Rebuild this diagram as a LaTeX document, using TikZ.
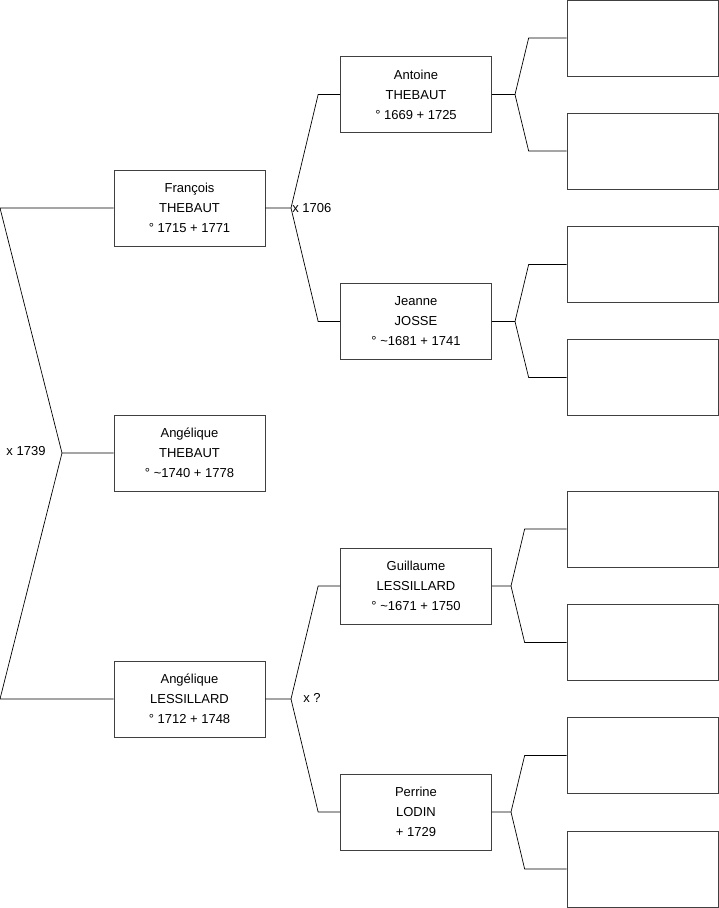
\documentclass[tikz,border=0pt]{standalone}
\usepackage{fontspec}
\setmainfont{Liberation Sans}
\usetikzlibrary{calc}

\begin{document}
\begin{tikzpicture}[x=1pt,y=-1pt,
  person/.style={draw=black!75,minimum width=151pt,minimum height=76pt,inner sep=0pt,align=center,font=\fontsize{13}{20}\selectfont},
  union/.style={inner sep=1pt,font=\fontsize{13}{15}\selectfont},
  every path/.style={line width=0.7pt}]
\useasboundingbox (0,0) rectangle (719,908);
% generation 1
\node[person] (francois) at (189.5,208) {François\\THEBAUT\\° 1715 + 1771};
\node[person] (angelique) at (189.5,453) {Angélique\\THEBAUT\\° \textasciitilde1740 + 1778};
\node[person] (angeliqueL) at (189.5,699) {Angélique\\LESSILLARD\\° 1712 + 1748};
% generation 2
\node[person] (antoine) at (416,94.5) {Antoine\\THEBAUT\\° 1669 + 1725};
\node[person] (jeanne) at (416,321.5) {Jeanne\\JOSSE\\° \textasciitilde1681 + 1741};
\node[person] (guillaume) at (416,586) {Guillaume\\LESSILLARD\\° \textasciitilde1671 + 1750};
\node[person] (perrine) at (416,812) {Perrine\\LODIN\\+ 1729};
% generation 3 (empty)
\node[person] (a1) at (642.5,38) {}; \node[person] (a2) at (642.5,151) {};
\node[person] (j1) at (642.5,264.5) {}; \node[person] (j2) at (642.5,377.5) {};
\node[person] (g1) at (642.5,529) {}; \node[person] (g2) at (642.5,642.5) {};
\node[person] (p1) at (642.5,755.5) {}; \node[person] (p2) at (642.5,869) {};
% unions
\coordinate (u0) at (62,453); \coordinate (u0a) at (0,208); \coordinate (u0b) at (0,699);
\draw (angelique.west) -- (u0) -- (u0a) -- (francois.west);
\draw (u0) -- (u0b) -- (angeliqueL.west);
\node[union] (m0) at (26,451) {x 1739};
\coordinate (u1) at (291,208);
\draw (francois.east) -- (u1) -- ($(antoine.west)+(-22,0)$) -- (antoine.west);
\draw (u1) -- ($(jeanne.west)+(-22,0)$) -- (jeanne.west);
\node[union,anchor=west] (m1) at (u1) {x 1706};
\coordinate (u2) at (291,699);
\draw (angeliqueL.east) -- (u2) -- ($(guillaume.west)+(-22,0)$) -- (guillaume.west);
\draw (u2) -- ($(perrine.west)+(-22,0)$) -- (perrine.west);
\node[union] (m2) at (312,698) {x ?};
% parents of generation 2
\coordinate (ua) at (515,94.5); \coordinate (uj) at (515,321.5);
\coordinate (ug) at (511,586); \coordinate (up) at (511,812);
\draw (antoine.east) -- (ua) -- ($(a1.west)+(-38,0)$) -- (a1.west);
\draw (ua) -- ($(a2.west)+(-38,0)$) -- (a2.west);
\draw (jeanne.east) -- (uj) -- ($(j1.west)+(-38,0)$) -- (j1.west);
\draw (uj) -- ($(j2.west)+(-38,0)$) -- (j2.west);
\draw (guillaume.east) -- (ug) -- ($(g1.west)+(-42,0)$) -- (g1.west);
\draw (ug) -- ($(g2.west)+(-42,0)$) -- (g2.west);
\draw (perrine.east) -- (up) -- ($(p1.west)+(-42,0)$) -- (p1.west);
\draw (up) -- ($(p2.west)+(-42,0)$) -- (p2.west);
\end{tikzpicture}
\end{document}
